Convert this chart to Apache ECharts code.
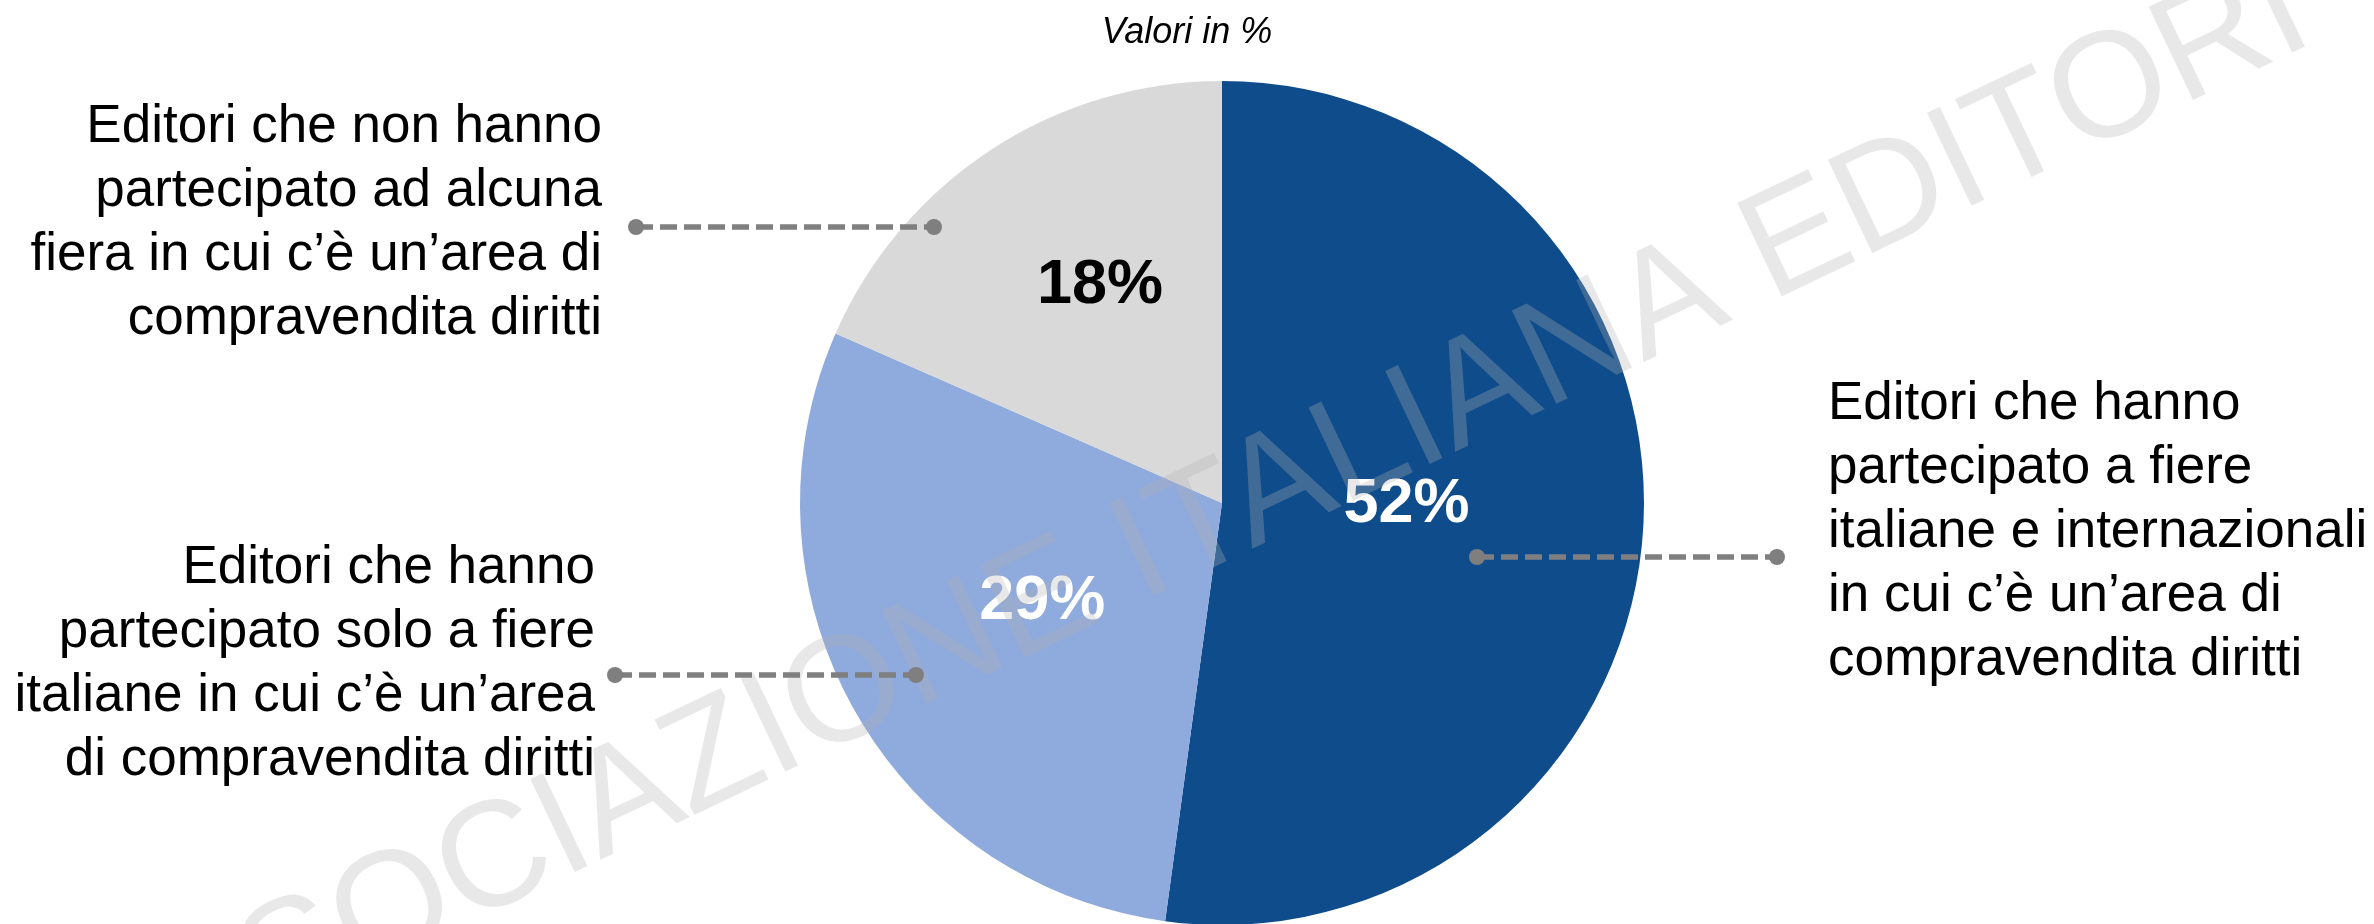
<!DOCTYPE html>
<html>
<head>
<meta charset="utf-8">
<script src="https://cdn.jsdelivr.net/npm/echarts@6/dist/echarts.min.js"></script>
<style>
  html, body { margin: 0; padding: 0; background: #ffffff; }
  #chart-container { width: 2374px; height: 924px; }
</style>
</head>
<body>
<div id="chart-container"></div>
<script>
// slices, clockwise from 12 o'clock
const categories = [
  'Editori che hanno\npartecipato a fiere\nitaliane e internazionali\nin cui c’è un’area di\ncompravendita diritti',
  'Editori che hanno\npartecipato solo a fiere\nitaliane in cui c’è un’area\ndi compravendita diritti',
  'Editori che non hanno\npartecipato ad alcuna\nfiera in cui c’è un’area di\ncompravendita diritti'
];
const shares = [52.1, 29.4, 18.4];
const subtitle = 'Valori in %';
const watermark = 'ASSOCIAZIONE ITALIANA EDITORI';

const sliceColors = ['#0F4C8C', '#8FAADC', '#D9D9D9'];
const valueColors = ['#ffffff', '#ffffff', '#000000'];
// small nudges so the % labels sit where they are in the slide
const valueNudge = [[-29, -13], [7, -6], [-5, -38]];

const font = '"Liberation Sans", Arial, sans-serif';

// callout text + dashed leader for each slice
const callouts = [
  { x: 1828, y: 532, align: 'left', line: [1477, 557, 1777, 557] },
  { x: 595, y: 664, align: 'right', line: [615, 675, 916, 675] },
  { x: 602, y: 223, align: 'right', line: [636, 227, 934, 227] }
];

function buildCallouts() {
  const items = [];
  callouts.forEach(function (c, i) {
    items.push({
      type: 'text',
      x: c.x,
      y: c.y,
      style: {
        text: categories[i],
        fill: '#000000',
        font: '53px ' + font,
        lineHeight: 64,
        align: c.align,
        verticalAlign: 'middle'
      },
      z: 50
    });
    items.push({
      type: 'line',
      shape: { x1: c.line[0], y1: c.line[1], x2: c.line[2], y2: c.line[3] },
      style: { stroke: '#7F7F7F', lineWidth: 5.5, lineDash: [17, 7] },
      z: 60
    });
    items.push({
      type: 'circle',
      shape: { cx: c.line[0], cy: c.line[1], r: 8 },
      style: { fill: '#7F7F7F' },
      z: 61
    });
    items.push({
      type: 'circle',
      shape: { cx: c.line[2], cy: c.line[3], r: 8 },
      style: { fill: '#7F7F7F' },
      z: 61
    });
  });
  // watermark across the slide
  items.push({
    type: 'text',
    x: 1185,
    y: 535,
    rotation: 25.5 * Math.PI / 180,
    silent: true,
    style: {
      text: watermark,
      fill: 'rgba(180,180,180,0.3)',
      font: '150px ' + font,
      align: 'center',
      verticalAlign: 'middle'
    },
    z: 40
  });
  return items;
}

const dom = document.getElementById('chart-container');
const myChart = echarts.init(dom, null, {
  renderer: 'canvas',
  useDirtyRect: false
});

const option = {
  backgroundColor: '#ffffff',
  animation: false,
  title: {
    text: subtitle,
    left: 'center',
    top: 10,
    textStyle: {
      fontFamily: font,
      fontStyle: 'italic',
      fontWeight: 'normal',
      fontSize: 36,
      color: '#000000'
    }
  },
  series: [
    {
      type: 'pie',
      center: [1222, 503],
      radius: 422,
      startAngle: 90,
      clockwise: true,
      silent: true,
      data: shares.map(function (v, i) {
        return {
          name: categories[i],
          value: v,
          itemStyle: { color: sliceColors[i] },
          label: { color: valueColors[i] }
        };
      }),
      itemStyle: { borderWidth: 0 },
      label: {
        show: true,
        position: 'inner',
        fontFamily: font,
        fontSize: 63,
        fontWeight: 'bold',
        formatter: function (p) {
          return Math.round(p.value) + '%';
        }
      },
      labelLine: { show: false },
      labelLayout: function (params) {
        const n = valueNudge[params.dataIndex];
        return { dx: n[0], dy: n[1] };
      }
    }
  ],
  graphic: buildCallouts()
};

if (option && typeof option === 'object') {
  myChart.setOption(option);
}
window.addEventListener('resize', myChart.resize);
</script>
</body>
</html>
